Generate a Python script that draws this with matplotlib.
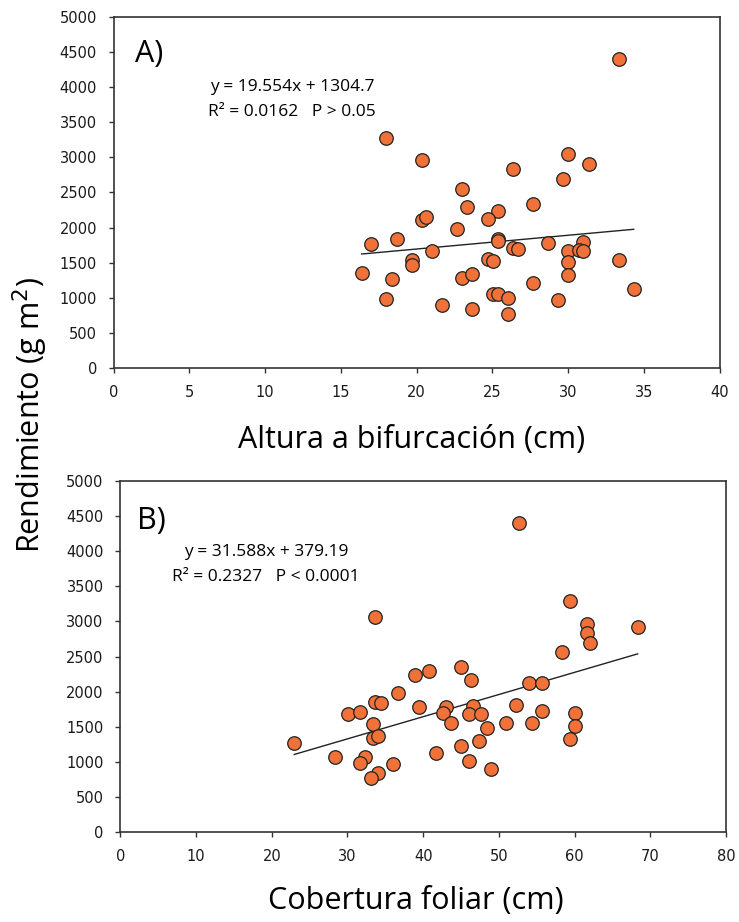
import matplotlib
matplotlib.use("Agg")
import matplotlib.pyplot as plt
import numpy as np

# Panel A: Altura a bifurcación (cm) vs Rendimiento
altura = [17.97, 20.35, 20.35, 20.6, 17.0, 18.7, 19.67, 19.67, 16.37, 18.37, 17.97,
          33.33, 30.0, 31.35, 29.66, 26.36, 22.99, 27.68, 23.34, 25.35, 24.69,
          22.68, 25.35, 25.35, 21.01, 26.33, 26.66, 28.67, 30.0, 31.0, 30.7, 31.0,
          30.0, 30.0, 33.33, 34.32, 24.69, 25.02, 22.99, 23.67, 27.68, 25.02, 25.35,
          26.0, 21.67, 23.67, 26.0, 29.33]
rend_a = [3268, 2960, 2107, 2154, 1766, 1837, 1539, 1463, 1359, 1264, 980,
          4396, 3045, 2903, 2685, 2832, 2543, 2335, 2288, 2235, 2117,
          1975, 1833, 1805, 1672, 1714, 1695, 1776, 1672, 1790, 1681, 1672,
          1506, 1321, 1534, 1122, 1549, 1530, 1288, 1335, 1217, 1056, 1056,
          1004, 895, 838, 772, 971]

# Panel B: Cobertura foliar (cm) vs Rendimiento
cobertura = [33.67, 38.96, 36.67, 33.67, 34.39, 39.4, 30.02, 31.65, 33.33, 33.33, 33.99,
             22.97, 28.39, 32.35, 31.65, 35.97, 33.99, 33.06,
             52.66, 59.35, 61.68, 61.68, 62.03, 68.33, 58.33, 44.99, 40.72, 46.31,
             54.02, 55.65, 43.01, 42.66, 43.67, 46.62, 46.01, 47.68, 52.3, 55.69,
             48.39, 50.98, 54.37, 60.01, 60.01, 59.35, 47.33, 41.69, 44.99, 46.01, 48.99]
rend_b = [3058, 2241, 1984, 1852, 1833, 1781, 1676, 1709, 1534, 1343, 1367,
          1263, 1068, 1068, 987, 969, 836, 774,
          4406, 3286, 2967, 2839, 2697, 2916, 2560, 2346, 2298, 2161,
          2127, 2127, 1776, 1690, 1548, 1799, 1681, 1681, 1814, 1719,
          1477, 1557, 1548, 1691, 1514, 1329, 1301, 1130, 1225, 1011, 902]

# Regression lines (as given on the chart)
slope_a, icpt_a = 19.554, 1304.7
slope_b, icpt_b = 31.588, 379.19

yticks = [0, 500, 1000, 1500, 2000, 2500, 3000, 3500, 4000, 4500, 5000]
xticks_a = [0, 5, 10, 15, 20, 25, 30, 35, 40]
xticks_b = [0, 10, 20, 30, 40, 50, 60, 70, 80]

label_font = "Open Sans"
tick_font = "DejaVu Sans"
orange = "#F07239"

fig = plt.figure(figsize=(7.39, 9.22), dpi=100)
axA = fig.add_axes([0.1539, 0.6005, 0.8200, 0.3816])
axB = fig.add_axes([0.1629, 0.0976, 0.8195, 0.3807])


def style(ax, xticks, xlim):
    ax.set_xlim(*xlim)
    ax.set_ylim(0, 5000)
    ax.set_xticks(xticks)
    ax.set_yticks(yticks)
    ax.tick_params(direction="out", length=3.6, width=1, labelsize=10.5, pad=8.5,
                   color="#333333", labelcolor="#1a1a1a")
    for lab in ax.get_xticklabels() + ax.get_yticklabels():
        lab.set_fontfamily(tick_font)
    for sp in ax.spines.values():
        sp.set_color("#333333")
        sp.set_linewidth(1.2)


def panel(ax, x, y, slope, icpt, xticks, xlim, letter, letter_pos, eq1, eq2, eqx, eqy):
    style(ax, xticks, xlim)
    ax.scatter(x, y, s=95, color=orange, edgecolor="#222222", linewidth=0.9, zorder=3)
    xx = np.array([min(x), max(x)])
    ax.plot(xx, slope * xx + icpt, color="#222222", lw=1.0, zorder=2)
    ax.text(letter_pos[0], letter_pos[1], letter, transform=ax.transAxes, fontsize=22,
            family=label_font, va="center", ha="left")
    ax.text(eqx, eqy[0], eq1, transform=ax.transAxes, fontsize=12.5,
            family=label_font, ha="center", va="center")
    ax.text(eqx, eqy[1], eq2, transform=ax.transAxes, fontsize=12.5,
            family=label_font, ha="center", va="center")


panel(axA, altura, rend_a, slope_a, icpt_a, xticks_a, (0, 40), "A)", (0.035, 0.893),
      "y = 19.554x + 1304.7", "R² = 0.0162   P > 0.05", 0.294, (0.80, 0.729))
panel(axB, cobertura, rend_b, slope_b, icpt_b, xticks_b, (0, 80), "B)", (0.028, 0.885),
      "y = 31.588x + 379.19", "R² = 0.2327   P < 0.0001", 0.24, (0.798, 0.727))

fig.text(0.5575, 0.5228, "Altura a bifurcación (cm)", fontsize=22, family=label_font,
         ha="center", va="center")
fig.text(0.563, 0.0228, "Cobertura foliar (cm)", fontsize=22, family=label_font,
         ha="center", va="center")
fig.text(0.041, 0.55, "Rendimiento (g m$^{2}$)", rotation=90, fontsize=22,
         family=label_font, ha="center", va="center")

fig.savefig("out.png", dpi=100)
